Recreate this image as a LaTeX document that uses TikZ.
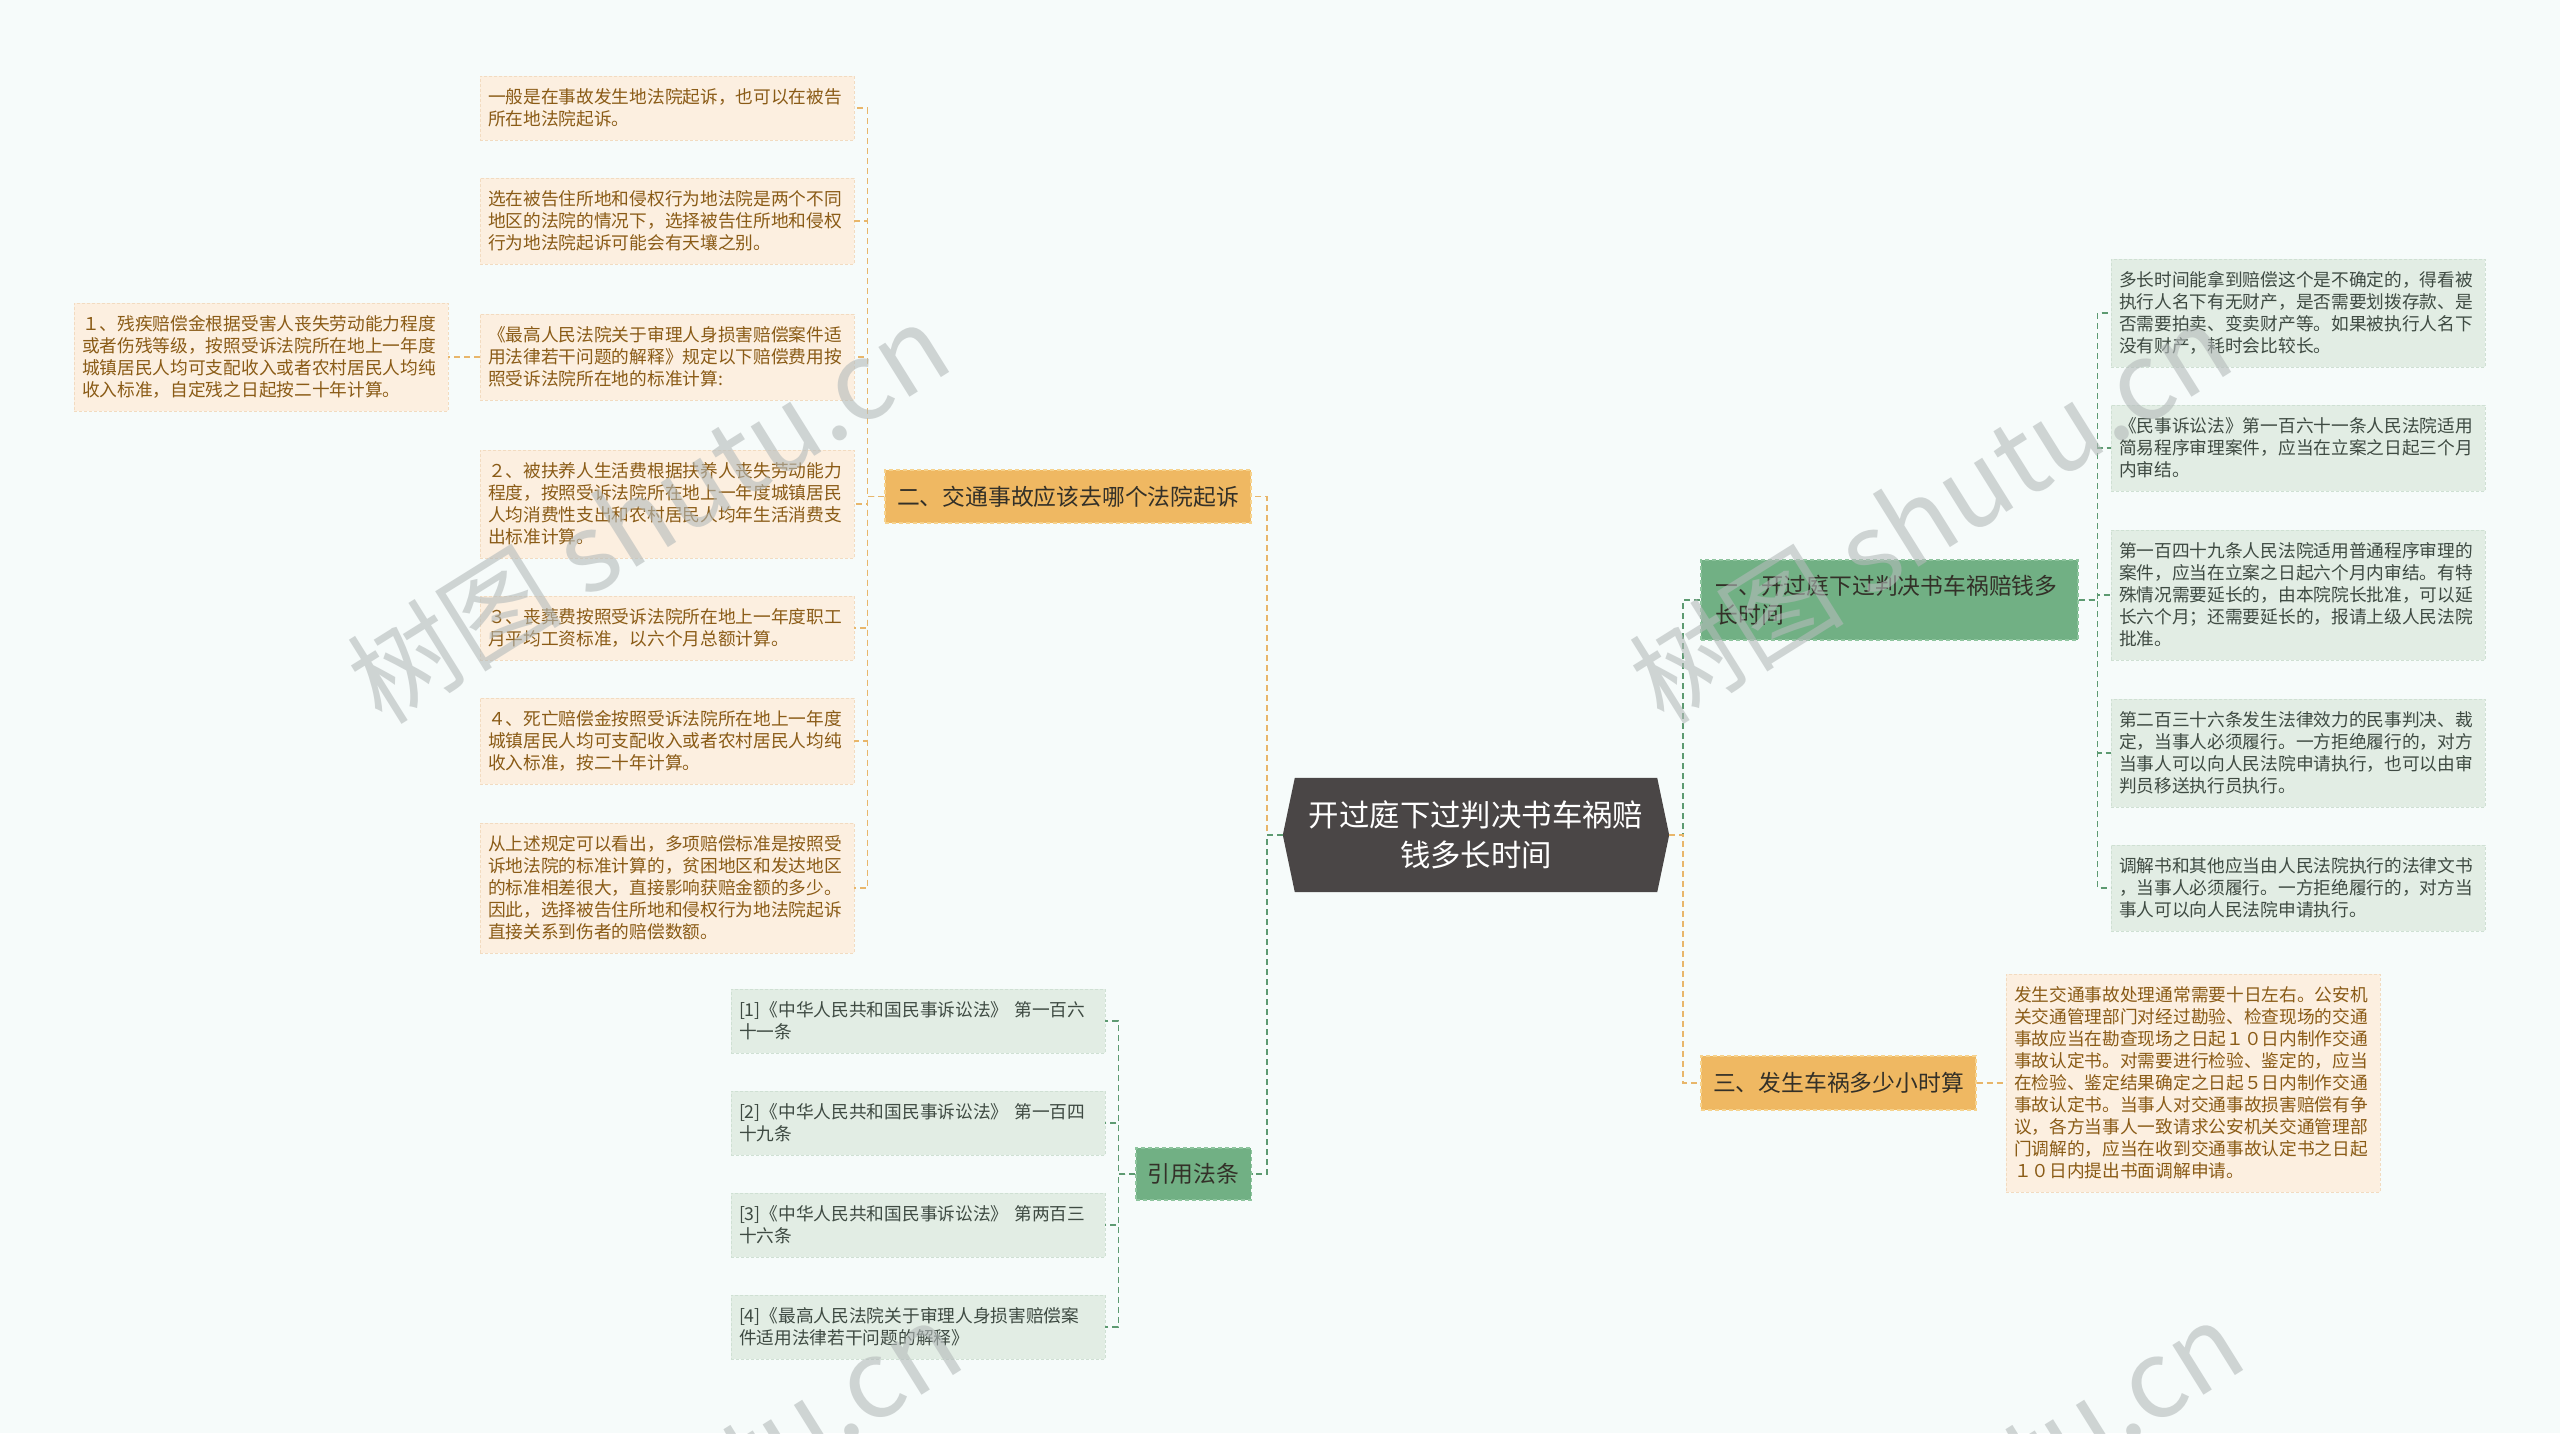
\documentclass[tikz,border=0pt]{standalone}
\usepackage{fontspec}
\setmainfont{Noto Sans CJK SC}
\definecolor{bgc}{HTML}{F6FBFA}
\definecolor{hexc}{HTML}{4A4646}
\definecolor{ofill}{HTML}{EFB862}
\definecolor{oline}{HTML}{F6D28C}
\definecolor{gfill}{HTML}{71B084}
\definecolor{gline}{HTML}{8DC49D}
\definecolor{maintext}{HTML}{333028}
\definecolor{olfill}{HTML}{FCEFE0}
\definecolor{olline}{HTML}{F2DBC0}
\definecolor{oltext}{HTML}{8A5B16}
\definecolor{glfill}{HTML}{E2EDE4}
\definecolor{glline}{HTML}{CFE0D3}
\definecolor{gltext}{HTML}{3E4A42}
\definecolor{oconnc}{HTML}{E8B66A}
\definecolor{gconnc}{HTML}{5D9A71}
\definecolor{wmc}{HTML}{B4BABA}
\pgfdeclarelayer{bg}
\pgfsetlayers{bg,main}
\tikzset{
  leafbase/.style={rectangle, text width=358pt, inner xsep=8pt, inner ysep=0pt,
    align=left, font=\fontsize{17.7pt}{22pt}\selectfont,
    dash pattern=on 3pt off 2pt, line width=0.8pt},
  oleaf/.style={leafbase, fill=olfill, draw=olline, text=oltext},
  gleaf/.style={leafbase, fill=glfill, draw=glline, text=gltext},
  ltwo/.style={minimum height=64pt},
  lthree/.style={minimum height=86pt},
  lfour/.style={minimum height=108pt},
  lfive/.style={minimum height=130pt},
  lnine/.style={minimum height=218pt},
  mainbase/.style={rectangle, inner xsep=12pt, inner ysep=0pt, text=maintext,
    font=\fontsize{22.8pt}{29pt}\selectfont, dash pattern=on 4pt off 3pt, line width=1.2pt},
  omain/.style={mainbase, fill=ofill, draw=oline},
  gmain/.style={mainbase, fill=gfill, draw=gline},
  centerbox/.style={rectangle, minimum width=386pt, minimum height=114pt, inner sep=0pt,
    align=center, text=white, font=\fontsize{30.4pt}{40pt}\selectfont},
  oconn/.style={draw=oconnc, line width=1.5pt, dash pattern=on 6pt off 4pt},
  gconn/.style={draw=gconnc, line width=1.5pt, dash pattern=on 6pt off 4pt},
  wmark/.style={text=wmc, opacity=0.6, rotate=32, inner sep=0pt,
    font=\fontsize{108pt}{108pt}\selectfont}
}
\begin{document}
\begin{tikzpicture}[x=1pt,y=-1pt]
\useasboundingbox (0,0) rectangle (2560,1433);
\begin{pgfonlayer}{bg}
\fill[bgc] (0,0) rectangle (2560,1433);
\end{pgfonlayer}

% center
\node[centerbox] (c) at (1476,835) {开过庭下过判决书车祸赔\\钱多长时间};
\begin{pgfonlayer}{bg}
\fill[hexc] ([xshift=12pt]c.north west) -- ([xshift=-12pt]c.north east) -- (c.east)
  -- ([xshift=-12pt]c.south east) -- ([xshift=12pt]c.south west) -- (c.west) -- cycle;
\end{pgfonlayer}

% main branches
\node[omain, minimum width=366pt, minimum height=53pt] (n2) at (1068,496.5) {二、交通事故应该去哪个法院起诉};
\node[gmain, minimum width=115pt, minimum height=52pt] (ref) at (1193.5,1174) {引用法条};
\node[gmain, text width=348pt, align=left, inner xsep=14.5pt, minimum height=80pt] (n1) at (1889.5,600) {一、开过庭下过判决书车祸赔钱多\\长时间};
\node[omain, minimum width=275pt, minimum height=54pt] (n3) at (1838.5,1083) {三、发生车祸多少小时算};

% left orange leaves
\node[oleaf, ltwo] (L1) at (667,108) {一般是在事故发生地法院起诉，也可以在被告\\所在地法院起诉。};
\node[oleaf, lthree] (L2) at (667,221) {选在被告住所地和侵权行为地法院是两个不同\\地区的法院的情况下，选择被告住所地和侵权\\行为地法院起诉可能会有天壤之别。};
\node[oleaf, lthree] (L3) at (667,357) {《最高人民法院关于审理人身损害赔偿案件适\\用法律若干问题的解释》规定以下赔偿费用按\\照受诉法院所在地的标准计算:};
\node[oleaf, lfour] (L4) at (261,357) {１、残疾赔偿金根据受害人丧失劳动能力程度\\或者伤残等级，按照受诉法院所在地上一年度\\城镇居民人均可支配收入或者农村居民人均纯\\收入标准，自定残之日起按二十年计算。};
\node[oleaf, lfour] (L5) at (667,504) {２、被扶养人生活费根据扶养人丧失劳动能力\\程度，按照受诉法院所在地上一年度城镇居民\\人均消费性支出和农村居民人均年生活消费支\\出标准计算。};
\node[oleaf, ltwo] (L6) at (667,628) {３、丧葬费按照受诉法院所在地上一年度职工\\月平均工资标准，以六个月总额计算。};
\node[oleaf, lthree] (L7) at (667,741) {４、死亡赔偿金按照受诉法院所在地上一年度\\城镇居民人均可支配收入或者农村居民人均纯\\收入标准，按二十年计算。};
\node[oleaf, lfive] (L8) at (667,888) {从上述规定可以看出，多项赔偿标准是按照受\\诉地法院的标准计算的，贫困地区和发达地区\\的标准相差很大，直接影响获赔金额的多少。\\因此，选择被告住所地和侵权行为地法院起诉\\直接关系到伤者的赔偿数额。};

% law leaves
\node[gleaf, ltwo] (law1) at (918,1021) {[1]《中华人民共和国民事诉讼法》 第一百六\\十一条};
\node[gleaf, ltwo] (law2) at (918,1123) {[2]《中华人民共和国民事诉讼法》 第一百四\\十九条};
\node[gleaf, ltwo] (law3) at (918,1225) {[3]《中华人民共和国民事诉讼法》 第两百三\\十六条};
\node[gleaf, ltwo] (law4) at (918,1327) {[4]《最高人民法院关于审理人身损害赔偿案\\件适用法律若干问题的解释》};

% right green leaves
\node[gleaf, lfour] (R1) at (2298,313) {多长时间能拿到赔偿这个是不确定的，得看被\\执行人名下有无财产，是否需要划拨存款、是\\否需要拍卖、变卖财产等。如果被执行人名下\\没有财产，耗时会比较长。};
\node[gleaf, lthree] (R2) at (2298,448) {《民事诉讼法》第一百六十一条人民法院适用\\简易程序审理案件，应当在立案之日起三个月\\内审结。};
\node[gleaf, lfive] (R3) at (2298,595) {第一百四十九条人民法院适用普通程序审理的\\案件，应当在立案之日起六个月内审结。有特\\殊情况需要延长的，由本院院长批准，可以延\\长六个月；还需要延长的，报请上级人民法院\\批准。};
\node[gleaf, lfour] (R4) at (2298,753) {第二百三十六条发生法律效力的民事判决、裁\\定，当事人必须履行。一方拒绝履行的，对方\\当事人可以向人民法院申请执行，也可以由审\\判员移送执行员执行。};
\node[gleaf, lthree] (R5) at (2298,888) {调解书和其他应当由人民法院执行的法律文书\\，当事人必须履行。一方拒绝履行的，对方当\\事人可以向人民法院申请执行。};

% right orange leaf
\node[oleaf, lnine] (R6) at (2193,1083) {发生交通事故处理通常需要十日左右。公安机\\关交通管理部门对经过勘验、检查现场的交通\\事故应当在勘查现场之日起１０日内制作交通\\事故认定书。对需要进行检验、鉴定的，应当\\在检验、鉴定结果确定之日起５日内制作交通\\事故认定书。当事人对交通事故损害赔偿有争\\议，各方当事人一致请求公安机关交通管理部\\门调解的，应当在收到交通事故认定书之日起\\１０日内提出书面调解申请。};

% connectors: center
\draw[oconn] (c.west) -- ++(-16,0) |- (n2.east);
\draw[gconn] (c.west) -- ++(-16,0) |- (ref.east);
\draw[gconn] (c.east) -- ++(14,0) |- (n1.west);
\draw[oconn] (c.east) -- ++(14,0) |- (n3.west);

% connectors: branch 2
\foreach \k in {L1,L2,L3,L5,L6,L7,L8}
  \draw[oconn] (n2.west) -- ++(-17,0) |- (\k.east);
\draw[oconn] (L3.west) -- (L4.east);

% connectors: laws
\foreach \k in {law1,law2,law3,law4}
  \draw[gconn] (ref.west) -- ++(-17,0) |- (\k.east);

% connectors: branch 1
\foreach \k in {R1,R2,R3,R4,R5}
  \draw[gconn] (n1.east) -- ++(19,0) |- (\k.west);

% connector: branch 3
\draw[oconn] (n3.east) -- (R6.west);

% watermarks
\node[wmark] (wm1) at (648,512) {树图 shutu.cn};
\node[wmark] (wm2) at (1930,512) {树图 shutu.cn};
\node[wmark] (wm3) at (660,1510) {树图 shutu.cn};
\node[wmark] (wm4) at (1942,1510) {树图 shutu.cn};
\end{tikzpicture}
\end{document}
